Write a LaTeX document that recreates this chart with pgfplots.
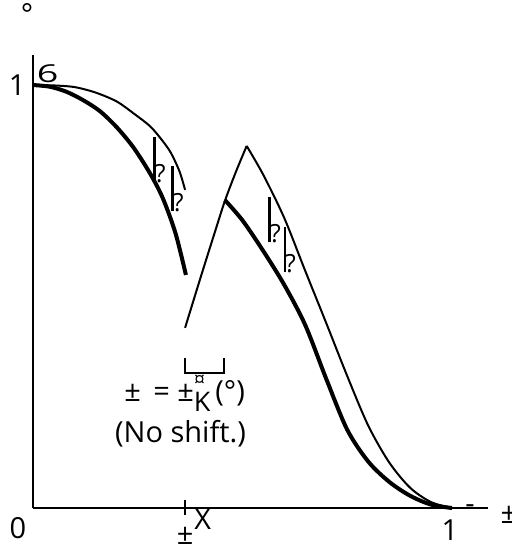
\documentclass[border=0pt]{standalone}
\usepackage{fontspec}
\setmainfont{Open Sans}
\usepackage{pgfplots}
\pgfplotsset{compat=1.18}

% tall bar with a small question mark (the broken glyph on the curves)
\newcommand\hq{\rule{1.4pt}{22.5pt}\kern-0.6pt{\fontsize{12.5}{12.5}\selectfont ?}}

\begin{document}
\begin{tikzpicture}[every node/.append style={font=\fontsize{14.5}{20}\selectfont}]
\begin{axis}[scale only axis, width=227.5pt, height=226.5pt,
  xmin=0, xmax=1.086, ymin=0, ymax=1.071,
  axis x line=bottom, axis y line=left,
  axis line style={-, line width=1pt, black},
  xtick={0.363}, xticklabels={}, ytick=\empty,
  tick align=center, major tick length=7.5pt,
  xtick style={line width=1pt, black},
  clip=false]

% first branch
\addplot[line width=1pt, smooth] coordinates
  {(0,1.000) (0.05,0.999) (0.10,0.995) (0.15,0.982) (0.20,0.961)
   (0.24,0.933) (0.28,0.902) (0.31,0.867) (0.33,0.838) (0.35,0.795)
   (0.363,0.752)};
\addplot[line width=2pt, smooth] coordinates
  {(0,1.000) (0.04,0.996) (0.08,0.984) (0.12,0.964) (0.16,0.938)
   (0.20,0.900) (0.24,0.852) (0.28,0.790) (0.31,0.732) (0.34,0.650)
   (0.365,0.551)};

% second branch, thin
\addplot[line width=1pt, smooth] coordinates
  {(0.363,0.426) (0.400,0.545) (0.434,0.652) (0.458,0.726) (0.484,0.794)
   (0.510,0.856)};
\addplot[line width=1pt, smooth] coordinates
  {(0.510,0.856) (0.55,0.787) (0.60,0.685) (0.65,0.560) (0.70,0.437)
   (0.75,0.312) (0.80,0.195) (0.85,0.108) (0.90,0.048) (0.95,0.014)
   (1.00,0.000)};
% second branch, thick
\addplot[line width=2pt, smooth] coordinates
  {(0.458,0.728) (0.50,0.680) (0.55,0.607) (0.60,0.527) (0.65,0.432)
   (0.70,0.305) (0.75,0.185) (0.80,0.110) (0.85,0.062) (0.90,0.029)
   (0.95,0.008) (1.00,0.000)};

% bracket
\addplot[line width=1pt] coordinates
  {(0.363,0.355) (0.363,0.319) (0.456,0.319) (0.456,0.355)};

\node[inner sep=0, anchor=south west] at (axis cs:0.286,0.768) {\hq};
\node[inner sep=0, anchor=south west] at (axis cs:0.329,0.700) {\hq};
\node[inner sep=0, anchor=south west] at (axis cs:0.561,0.626) {\hq};
\node[inner sep=0, anchor=south west] at (axis cs:0.597,0.556) {\hq};

\node[inner sep=0] at (axis cs:-0.038,1.0) {1};
\node[inner sep=0] at (axis cs:-0.036,-0.047) {0};
\node[inner sep=0] at (axis cs:0.995,-0.052) {1};
\node[inner sep=0] at (axis cs:0.363,-0.067) {±};
\node[inner sep=0] at (axis cs:0.405,-0.026) {X};
\node[inner sep=0] at (axis cs:1.043,-0.003) {-};
\node[inner sep=0] at (axis cs:1.136,-0.017) {±};
\node[inner sep=0] at (axis cs:-0.014,1.167) {°};
\node[inner sep=0, xscale=1.3, yscale=0.85] at (axis cs:0.035,1.026) {6};

\node[inner sep=0, anchor=base] at (axis cs:0.362,0.251)
  {±\, = ±\makebox[0pt][l]{\raisebox{7.5pt}{\fontsize{10}{10}\selectfont ¤}}\raisebox{-5pt}{\fontsize{13.5}{13.5}\selectfont K}\,(°)};
\node[inner sep=0, anchor=base] at (axis cs:0.352,0.156) {(No shift.)};

\coordinate (O) at (axis cs:0,0);
\end{axis}
\pgfresetboundingbox
\path[use as bounding box] ([shift={(-16.5pt,-21pt)}]O) rectangle ([shift={(239.5pt,254pt)}]O);
\end{tikzpicture}
\end{document}
